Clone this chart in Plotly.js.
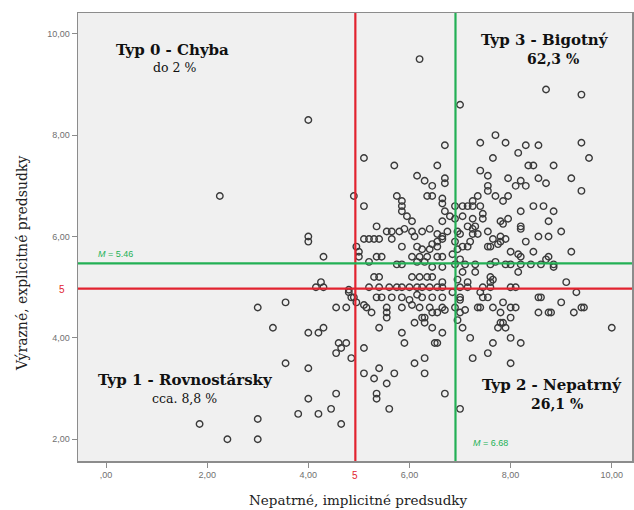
<!DOCTYPE html>
<html>
<head>
<meta charset="utf-8">
<script src="https://cdn.plot.ly/plotly-3.0.1.min.js"></script>
<style>html,body{margin:0;padding:0;background:#fff;}#chart{width:634px;height:510px;}</style>
</head>
<body>
<div id="chart"></div>
<script>
// Implicit (x) and explicit (y) prejudice scores
const implicitScores = [
  6.2,4.0,2.25,4.0,4.0,4.3,4.15,4.25,4.3,3.55,3.0,3.3,4.0,4.2,4.3,3.55,4.0,4.0,3.8,4.2,1.85,3.0,2.4,3.0,4.45,4.55,4.65,4.55,4.65,4.6,4.75,4.85,4.55,4.75,4.8,4.85,4.9,5.1,5.1,4.95,5.0,5.0,
  5.1,5.1,5.3,5.4,5.55,5.7,5.35,5.35,5.6,5.85,5.9,6.1,6.3,6.3,6.5,6.7,7.0,6.1,6.3,6.45,6.55,6.65,5.4,6.3,
  7.0,8.7,9.4,6.7,7.4,7.7,7.9,8.15,8.3,8.55,9.4,9.55,7.65,5.7,6.55,8.35,8.45,8.85,7.4,7.55,7.95,8.55,9.2,6.15,6.7,6.3,6.45,6.7,8.2,8.7,7.55,8.1,8.3,9.4,7.55,5.75,6.35,6.45,6.65,7.35,7.7,7.95,5.85,6.65,7.25,7.85,5.85,6.9,7.05,7.15,7.25,7.4,8.45,8.65,5.85,6.7,8.2,8.85,7.45,5.95,6.05,6.65,6.8,7.05,7.25,7.45,7.8,7.95,7.85,8.75,8.2,7.3,
  5.35,5.55,5.65,5.8,5.9,6.05,6.1,6.25,6.4,6.55,6.65,6.75,5.1,5.2,5.3,5.4,5.65,5.85,6.15,6.25,6.4,6.45,6.55,6.55,5.35,5.45,6.05,6.2,6.35,6.55,6.65,5.2,5.75,5.85,6.15,6.3,6.45,
  6.9,6.95,6.9,6.95,6.85,7.0,6.9,7.05,6.95,7.0,6.85,7.0,6.9,7.0,6.95,7.05,6.65,7.0,7.15,7.25,7.25,6.65,
  7.55,7.65,7.8,7.8,7.9,8.2,8.3,8.55,8.75,9.0,9.2,7.55,7.75,8.0,8.15,8.2,8.45,8.75,7.3,7.6,7.65,8.15,8.85,
  7.1,7.3,7.6,7.7,7.9,8.0,8.2,8.4,8.6,8.7,8.85,7.05,7.15,7.2,7.35,7.6,
  5.3,5.4,6.05,6.2,6.35,6.45,6.65,5.2,5.4,5.6,5.75,5.85,6.0,6.15,6.25,6.4,6.55,4.8,4.9,5.35,5.45,5.65,5.85,6.0,6.15,6.25,6.45,6.65,
  4.95,5.1,5.25,5.15,5.55,5.55,5.55,5.85,6.05,6.2,6.4,6.45,6.55,6.7,6.25,
  7.15,7.15,7.6,7.0,7.4,7.55,7.85,8.1,8.55,9.0,9.4,9.25,6.65,7.1,7.4,7.8,8.0,8.55,8.75,7.85,7.75,7.9,8.0,8.2,7.65,7.2,7.25,7.55,8.0,10.0,
  6.65,7.6,8.0,8.1,9.1,9.3,8.6,8.8,9.45,7.45,7.45,7.35,7.8,7.65,8.0
];
const explicitScores = [
  9.5,8.3,6.8,6.0,5.9,5.6,5.0,5.1,5.0,4.7,4.6,4.2,4.1,4.1,4.2,3.5,3.4,2.8,2.5,2.5,2.3,2.4,2.0,2.0,2.6,2.9,2.3,3.7,3.8,3.9,3.9,3.6,4.6,4.6,4.9,4.8,6.8,6.6,7.55,5.8,5.6,5.7,
  3.8,3.3,3.2,3.4,3.1,3.3,2.9,2.8,2.6,4.1,3.9,3.5,3.6,3.3,3.9,2.9,2.6,4.3,4.4,4.2,3.9,4.1,4.2,4.3,
  8.6,8.9,8.8,7.8,7.85,8.0,7.85,7.65,7.8,7.8,7.85,7.55,7.55,7.4,7.4,7.4,7.4,7.4,7.3,7.2,7.15,7.15,7.15,7.2,7.15,7.1,7.0,7.05,7.1,7.05,7.0,7.0,7.0,6.9,6.9,6.8,6.8,6.8,6.75,6.8,6.8,6.8,6.7,6.65,6.7,6.7,6.6,6.6,6.6,6.6,6.6,6.6,6.6,6.6,6.5,6.5,6.5,6.5,6.45,6.4,6.3,6.3,6.4,6.4,6.35,6.35,6.3,6.35,6.25,6.3,6.2,6.2,
  6.2,6.1,6.1,6.1,6.15,6.1,6.0,6.1,6.15,6.05,6.0,6.1,5.95,5.95,5.95,5.95,5.95,5.8,5.8,5.75,5.75,5.85,5.8,5.9,5.6,5.6,5.6,5.6,5.6,5.6,5.6,5.5,5.45,5.45,5.5,5.5,5.4,
  6.35,6.1,5.9,5.75,5.65,5.55,5.45,5.3,5.15,5.0,4.9,4.75,4.6,4.5,4.35,4.2,5.95,6.05,6.2,6.05,6.15,5.4,
  6.1,5.95,6.0,5.9,5.95,6.15,5.9,6.0,6.0,6.1,5.7,5.8,5.85,5.7,5.65,5.6,5.7,5.6,5.3,5.2,5.15,5.3,5.4,
  5.45,5.45,5.45,5.5,5.45,5.45,5.45,5.45,5.45,5.55,5.45,5.8,5.8,5.9,6.05,5.8,
  5.2,5.2,5.2,5.2,5.2,5.2,5.1,5.0,5.0,5.0,5.0,5.0,5.0,5.0,5.0,5.0,5.0,4.95,4.8,4.8,4.8,4.8,4.8,4.75,4.85,4.8,4.8,4.8,
  4.7,4.65,4.5,4.6,4.6,4.5,4.4,4.6,4.65,4.6,4.6,4.5,4.5,4.55,4.4,
  5.1,5.0,5.1,4.8,4.9,4.8,4.7,4.6,4.8,4.7,4.6,4.5,4.6,4.55,4.6,4.5,4.4,4.5,4.5,4.3,4.2,4.2,4.0,3.9,3.9,4.0,3.6,3.7,3.5,4.2,
  5.0,5.0,5.0,5.0,5.1,4.9,4.8,4.5,4.6,5.0,4.8,4.6,4.3,4.6,4.6
];
const xTickValues = [0, 2, 4, 6, 8, 10];
const xTickLabels = [',00', '2,00', '4,00', '6,00', '8,00', '10,00'];
const yTickValues = [2, 4, 6, 8, 10];
const yTickLabels = ['2,00', '4,00', '6,00', '8,00', '10,00'];
const thresholdValue = 5;
const meanImplicit = 6.68;
const meanExplicit = 5.46;
const quadrantTitles = ['Typ 0 - Chyba', 'Typ 1 - Rovnostársky', 'Typ 2 - Nepatrný', 'Typ 3 - Bigotný'];
const quadrantShares = ['do 2 %', 'cca. 8,8 %', '26,1 %', '62,3 %'];

// drawn positions of the reference lines (as they appear in the picture)
const redX = 4.93, redY = 4.97, greenX = 6.91, greenY = 5.47;

const RED = '#e2232f', GREEN = '#23b055';
const serif = 'DejaVu Serif, serif';

const trace = {
  x: implicitScores, y: explicitScores, type: 'scatter', mode: 'markers',
  marker: {symbol: 'circle-open', size: 6.5, color: '#3a3a3a', line: {width: 1.4, color: '#3a3a3a'}},
  hoverinfo: 'skip', showlegend: false
};

const lineStyle = (c) => ({color: c, width: 2.2});
const shapes = [
  {type: 'line', xref: 'x', yref: 'paper', x0: redX, x1: redX, y0: 0, y1: 1, line: lineStyle(RED)},
  {type: 'line', xref: 'paper', yref: 'y', x0: 0, x1: 1, y0: redY, y1: redY, line: lineStyle(RED)},
  {type: 'line', xref: 'x', yref: 'paper', x0: greenX, x1: greenX, y0: 0, y1: 1, line: lineStyle(GREEN)},
  {type: 'line', xref: 'paper', yref: 'y', x0: 0, x1: 1, y0: greenY, y1: greenY, line: lineStyle(GREEN)}
];

const big = {family: serif, size: 15, color: '#111'};
const mid = {family: serif, size: 14, color: '#111'};
const small = {family: serif, size: 12.5, color: '#111'};
function pann(px, py, text, font, extra) {
  return Object.assign({xref: 'paper', yref: 'paper', x: (px - 78) / 554, y: 1 - (py - 13) / 448,
    text: text, showarrow: false, font: font, xanchor: 'center', yanchor: 'middle'}, extra || {});
}
const annotations = [
  pann(172, 50, '<b>' + quadrantTitles[0] + '</b>', big),
  pann(174, 68, quadrantShares[0], small),
  pann(545, 40, '<b>' + quadrantTitles[3] + '</b>', big),
  pann(553, 59, '<b>' + quadrantShares[3] + '</b>', mid),
  pann(185, 380, '<b>' + quadrantTitles[1] + '</b>', big),
  pann(184, 398, quadrantShares[1], small),
  pann(552, 385, '<b>' + quadrantTitles[2] + '</b>', big),
  pann(557, 404, '<b>' + quadrantShares[2] + '</b>', mid),
  pann(115, 254, '<i>M</i> = ' + meanExplicit.toFixed(2), {family: 'Liberation Sans, sans-serif', size: 9, color: GREEN}),
  pann(490, 443, '<i>M</i> = ' + meanImplicit.toFixed(2), {family: 'Liberation Sans, sans-serif', size: 9, color: GREEN}),
  pann(62, 289, String(thresholdValue), {family: 'Liberation Sans, sans-serif', size: 10, color: RED}),
  pann(355, 475, String(thresholdValue), {family: 'Liberation Sans, sans-serif', size: 10, color: RED}),
  pann(358, 500, 'Nepatrné, implicitné predsudky', {family: serif, size: 13.5, color: '#222'}),
  pann(22, 264, 'Výrazné, explicitné predsudky', {family: serif, size: 14, color: '#222'}, {textangle: -90})
];

const axisCommon = {
  showgrid: false, zeroline: false, showline: true, mirror: true,
  linecolor: '#8c8c8c', linewidth: 1.5, ticks: 'outside', ticklen: 5, tickcolor: '#8c8c8c', tickwidth: 1,
  tickfont: {family: 'Liberation Sans, sans-serif', size: 9, color: '#707070'}
};

const layout = {
  width: 634, height: 510,
  margin: {l: 78, r: 2, t: 13, b: 49},
  paper_bgcolor: '#ffffff', plot_bgcolor: '#f0f0f0',
  xaxis: Object.assign({}, axisCommon, {range: [-0.554, 10.40], tickmode: 'array', tickvals: xTickValues, ticktext: xTickLabels}),
  yaxis: Object.assign({}, axisCommon, {range: [1.571, 10.41], tickmode: 'array', tickvals: yTickValues, ticktext: yTickLabels}),
  shapes: shapes, annotations: annotations, showlegend: false
};

Plotly.newPlot('chart', [trace], layout, {staticPlot: true, displayModeBar: false});
</script>
</body>
</html>
